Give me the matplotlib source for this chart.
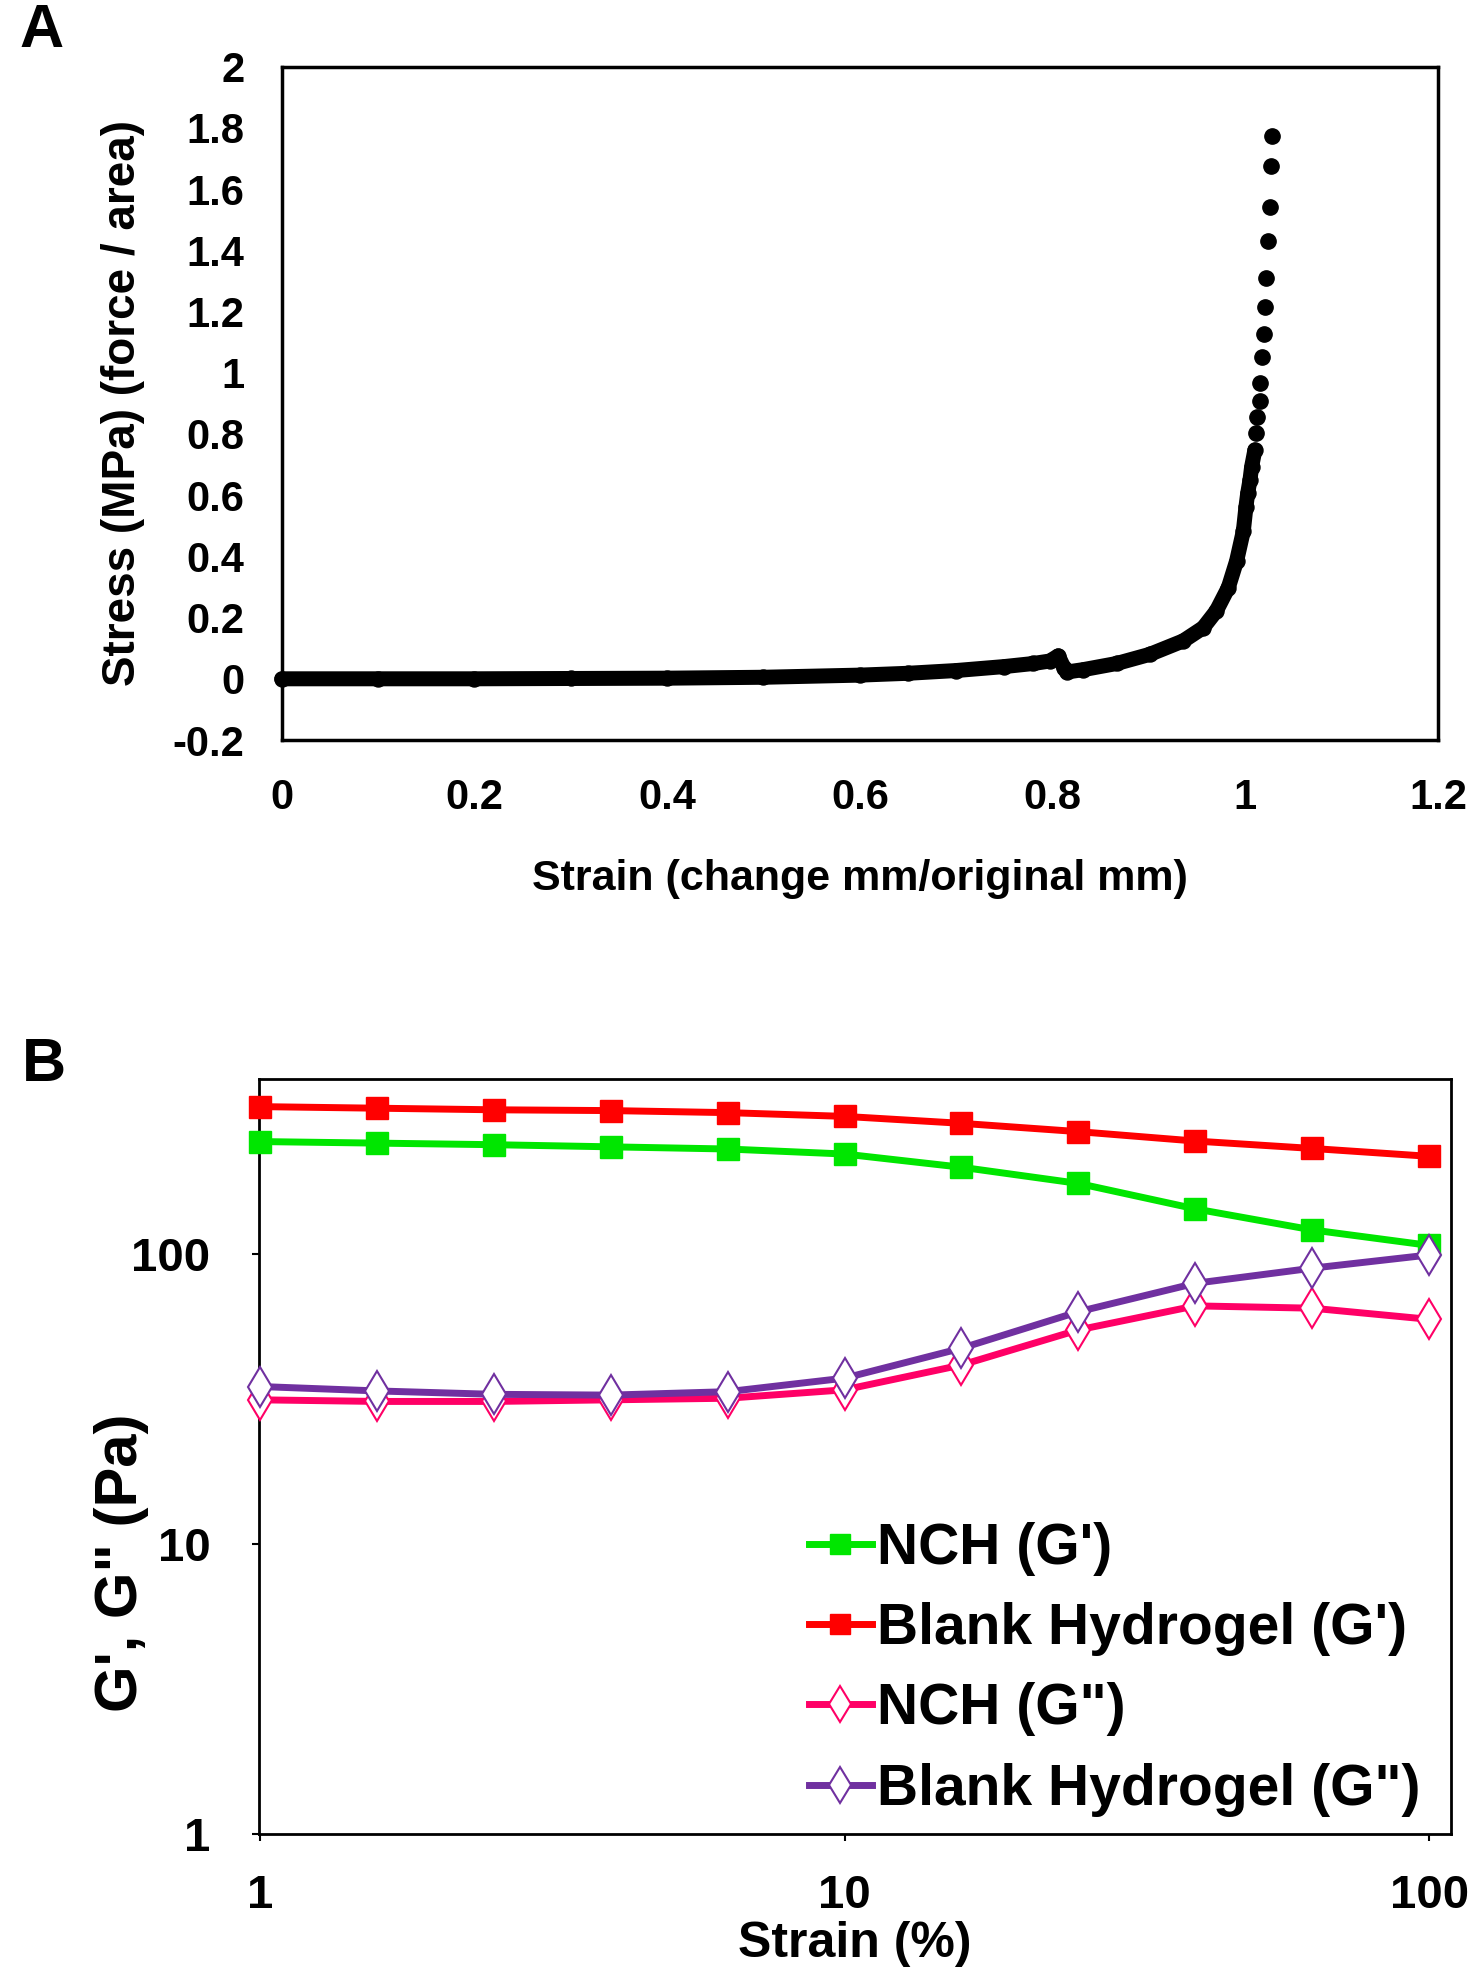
import matplotlib
matplotlib.use("Agg")
import matplotlib.pyplot as plt
from matplotlib.ticker import FixedLocator, FixedFormatter, NullLocator

plt.rcParams['font.family'] = ['Liberation Sans', 'DejaVu Sans']
plt.rcParams['font.weight'] = 'bold'

# ---------------- Panel A data (stress-strain) ----------------
# dense (continuous-looking) part of the curve
strain_dense = [0.0, 0.1, 0.2, 0.3, 0.4, 0.5, 0.6, 0.65, 0.7, 0.75, 0.78, 0.797,
                0.806, 0.812, 0.8146, 0.832, 0.8665, 0.901, 0.9357, 0.9564, 0.970,
                0.9824, 0.991, 0.998, 1.0007, 1.0025, 1.0049, 1.0066, 1.010]
stress_dense = [0.0, 0.0, 0.0, 0.001, 0.002, 0.005, 0.012, 0.018, 0.027, 0.040, 0.050, 0.058,
                0.075, 0.035, 0.022, 0.030, 0.050, 0.080, 0.124, 0.167, 0.222,
                0.298, 0.385, 0.483, 0.562, 0.606, 0.650, 0.693, 0.748]
# sparse individual points near failure
strain_sparse = [1.0114, 1.0125, 1.0150, 1.0156, 1.0173, 1.0197, 1.0208, 1.0218,
                 1.0232, 1.0253, 1.0263, 1.0274]
stress_sparse = [0.802, 0.855, 0.909, 0.966, 1.051, 1.127, 1.214, 1.308,
                 1.432, 1.541, 1.674, 1.774]

a_xticks = [0, 0.2, 0.4, 0.6, 0.8, 1.0, 1.2]
a_xticklabels = ['0', '0.2', '0.4', '0.6', '0.8', '1', '1.2']
a_yticks = [-0.2, 0, 0.2, 0.4, 0.6, 0.8, 1.0, 1.2, 1.4, 1.6, 1.8, 2.0]
a_yticklabels = ['-0.2', '0', '0.2', '0.4', '0.6', '0.8', '1', '1.2', '1.4', '1.6', '1.8', '2']

# ---------------- Panel B data (strain sweep) ----------------
strain_pct = [1, 1.585, 2.512, 3.981, 6.310, 10, 15.85, 25.12, 39.81, 63.10, 100]
blank_Gp = [322, 318, 314, 312, 307, 298, 282, 264, 245, 231, 217]
nch_Gp = [244, 241, 238, 234, 230, 221, 199, 175, 143, 121, 107]
nch_Gpp = [31.4, 31.0, 31.0, 31.4, 31.8, 34.0, 41.4, 54.7, 66.2, 65.0, 59.5]
blank_Gpp = [34.9, 33.7, 32.8, 32.6, 33.5, 37.3, 47.3, 63.2, 79.2, 89.3, 99.2]
b_ticks = [1, 10, 100]
b_ticklabels = ['1', '10', '100']
series_labels = ["NCH (G')", "Blank Hydrogel (G')", 'NCH (G")', 'Blank Hydrogel (G")']

fig = plt.figure(figsize=(14.75, 19.8), dpi=100)

# ---------------- Panel A ----------------
axA = fig.add_axes([0.19098, 0.62626, 0.78393, 0.34005])
axA.plot(strain_dense, stress_dense, color='black', lw=10.8, solid_capstyle='round',
         solid_joinstyle='round', marker='o', ms=10.8, clip_on=False, zorder=3)
axA.plot(strain_sparse, stress_sparse, linestyle='none', marker='o', color='black',
         ms=11, clip_on=False, zorder=3)
axA.set_xlim(0, 1.2)
axA.set_ylim(-0.2, 2.0)
axA.xaxis.set_major_locator(FixedLocator(a_xticks))
axA.xaxis.set_major_formatter(FixedFormatter(a_xticklabels))
axA.yaxis.set_major_locator(FixedLocator(a_yticks))
axA.yaxis.set_major_formatter(FixedFormatter(a_yticklabels))
axA.tick_params(axis='both', length=0, labelsize=30, pad=27)
for lab in axA.get_xticklabels() + axA.get_yticklabels():
    lab.set_fontweight('bold')
for sp in axA.spines.values():
    sp.set_linewidth(2.5)
axA.set_xlabel('Strain (change mm/original mm)', fontsize=31, fontweight='bold', labelpad=30)
axA.set_ylabel('Stress (MPa) (force / area)', fontsize=33, fontweight='bold', labelpad=20)

# ---------------- Panel B ----------------
axB = fig.add_axes([0.17559, 0.07374, 0.80814, 0.38116])
axB.set_xscale('log')
axB.set_yscale('log')
lw = 5
axB.plot(strain_pct, nch_Gp, color='#00E600', lw=lw, marker='s', ms=16,
         mec='#00E600', label=series_labels[0], clip_on=False, zorder=3)
axB.plot(strain_pct, blank_Gp, color='#FF0000', lw=lw, marker='s', ms=16,
         mec='#FF0000', label=series_labels[1], clip_on=False, zorder=3)
axB.plot(strain_pct, nch_Gpp, color='#FF0066', lw=lw, marker='d', ms=20,
         mfc='white', mec='#FF0066', mew=1.5, label=series_labels[2], clip_on=False, zorder=3)
axB.plot(strain_pct, blank_Gpp, color='#7030A0', lw=lw, marker='d', ms=20,
         mfc='white', mec='#7030A0', mew=1.5, label=series_labels[3], clip_on=False, zorder=4)
axB.set_xlim(0.996, 109)
axB.set_ylim(1, 400)
axB.xaxis.set_major_locator(FixedLocator(b_ticks))
axB.xaxis.set_major_formatter(FixedFormatter(b_ticklabels))
axB.xaxis.set_minor_locator(NullLocator())
axB.yaxis.set_major_locator(FixedLocator(b_ticks))
axB.yaxis.set_major_formatter(FixedFormatter(b_ticklabels))
axB.yaxis.set_minor_locator(NullLocator())
axB.tick_params(axis='both', direction='out', length=5, width=1.5, labelsize=34)
axB.tick_params(axis='y', pad=30)
axB.tick_params(axis='x', pad=24)
for lab in axB.get_xticklabels() + axB.get_yticklabels():
    lab.set_fontweight('bold')
for sp in axB.spines.values():
    sp.set_linewidth(2)
axB.set_xlabel('Strain (%)', fontsize=36, fontweight='bold', labelpad=2)
axB.set_ylabel('G\', G" (Pa)', fontsize=43, fontweight='bold')
axB.yaxis.set_label_coords(-0.092, 0.36)

leg = axB.legend(loc='upper left', bbox_to_anchor=(0.5485, 0.2313),
                 bbox_transform=fig.transFigure, frameon=False,
                 prop={'size': 41, 'weight': 'bold'}, handlelength=1.1,
                 handletextpad=0.1, labelspacing=0.46, borderpad=0, borderaxespad=0,
                 markerscale=0.9)

fig.text(0.0285, 0.984, 'A', fontsize=44, fontweight='bold', ha='center', va='center')
fig.text(0.0298, 0.462, 'B', fontsize=44, fontweight='bold', ha='center', va='center')

fig.savefig('out.png', dpi=100)
